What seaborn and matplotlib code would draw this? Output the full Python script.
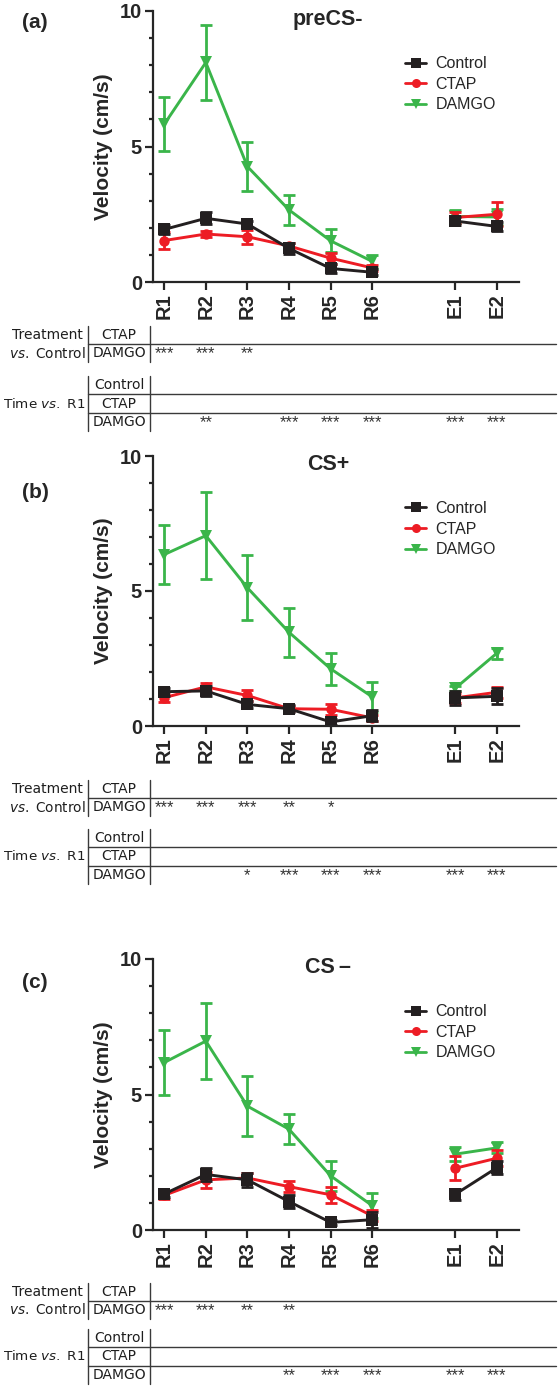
import numpy as np
import pandas as pd
import matplotlib
matplotlib.use('Agg')
import matplotlib.pyplot as plt
import matplotlib.transforms as mtransforms
from matplotlib.lines import Line2D
import seaborn as sns

sns.set_style("ticks")
plt.rcParams['font.family'] = ['Liberation Sans', 'DejaVu Sans']
plt.rcParams['mathtext.fontset'] = 'dejavusans'

# x axis: six retrieval trials, a gap, two extinction trials
x_labels = ['R1', 'R2', 'R3', 'R4', 'R5', 'R6', 'E1', 'E2']
x_pos = [0, 1, 2, 3, 4, 5, 7, 8]
groups = ['Control', 'CTAP', 'DAMGO']

# (a) preCS-
ctrl_a = [1.94, 2.35, 2.14, 1.24, 0.50, 0.36, 2.25, 2.05]
ctrl_a_sem = [0.18, 0.22, 0.12, 0.20, 0.15, 0.12, 0.15, 0.15]
ctap_a = [1.53, 1.77, 1.67, 1.33, 0.88, 0.52, 2.38, 2.50]
ctap_a_sem = [0.32, 0.12, 0.25, 0.12, 0.20, 0.12, 0.20, 0.45]
damgo_a = [5.82, 8.10, 4.26, 2.66, 1.52, 0.76, 2.42, 2.40]
damgo_a_sem = [1.00, 1.40, 0.90, 0.55, 0.42, 0.25, 0.25, 0.28]
stars_treat_a = ['***', '***', '**', '', '', '', '', '']
stars_time_a = ['', '**', '', '***', '***', '***', '***', '***']

# (b) CS+
ctrl_b = [1.27, 1.30, 0.80, 0.64, 0.15, 0.38, 1.04, 1.10]
ctrl_b_sem = [0.15, 0.20, 0.12, 0.12, 0.10, 0.20, 0.25, 0.30]
ctap_b = [1.05, 1.45, 1.13, 0.64, 0.62, 0.30, 1.04, 1.25]
ctap_b_sem = [0.15, 0.15, 0.20, 0.10, 0.20, 0.10, 0.20, 0.20]
damgo_b = [6.35, 7.05, 5.12, 3.47, 2.12, 1.08, 1.40, 2.70]
damgo_b_sem = [1.10, 1.60, 1.20, 0.90, 0.60, 0.55, 0.10, 0.20]
stars_treat_b = ['***', '***', '***', '**', '*', '', '', '']
stars_time_b = ['', '', '*', '***', '***', '***', '***', '***']

# (c) CS-
ctrl_c = [1.33, 2.05, 1.85, 1.05, 0.28, 0.38, 1.32, 2.30]
ctrl_c_sem = [0.12, 0.25, 0.25, 0.25, 0.08, 0.30, 0.20, 0.25]
ctap_c = [1.28, 1.85, 1.92, 1.60, 1.30, 0.52, 2.28, 2.65]
ctap_c_sem = [0.15, 0.30, 0.20, 0.20, 0.30, 0.20, 0.45, 0.30]
damgo_c = [6.18, 6.97, 4.57, 3.72, 2.00, 0.90, 2.80, 3.03]
damgo_c_sem = [1.20, 1.40, 1.10, 0.55, 0.55, 0.45, 0.25, 0.20]
stars_treat_c = ['***', '***', '**', '**', '', '', '', '']
stars_time_c = ['', '', '', '**', '***', '***', '***', '***']

colors = {'Control': '#231f20', 'CTAP': '#ed1c24', 'DAMGO': '#3ab54a'}
markers = {'Control': 's', 'CTAP': 'o', 'DAMGO': 'v'}
msizes = {'Control': 8.5, 'CTAP': 7.5, 'DAMGO': 8}

W, H = 560, 1388


def fx(x):
    return x / W


def fy(y):
    return 1 - y / H


fig = plt.figure(figsize=(W / 100, H / 100), dpi=100)


def draw_panel(ax, means, sems, title):
    # draw DAMGO first so Control ends up on top
    for i, g in enumerate(['DAMGO', 'CTAP', 'Control']):
        df = pd.DataFrame({'pos': x_pos, 'vel': means[g],
                           'seg': [lab[0] for lab in x_labels]})
        z = 2 + i * 0.1
        ax.errorbar(x_pos, means[g], yerr=sems[g], fmt='none', ecolor=colors[g],
                    elinewidth=2.0, capsize=4, capthick=2.0, zorder=z - 0.05)
        sns.lineplot(data=df, x='pos', y='vel', units='seg', estimator=None,
                     color=colors[g], marker=markers[g], markersize=msizes[g],
                     markeredgewidth=0, linewidth=2.1, zorder=z, ax=ax)

    ax.set_xlim(-0.27, 8.53)
    ax.set_ylim(0, 10)
    ax.set_yticks([0, 5, 10])
    ax.set_yticks(np.arange(0, 11, 1), minor=True)
    ax.set_xticks(x_pos)
    ax.set_xticklabels(x_labels, rotation=90)
    ax.tick_params(axis='both', which='major', width=1.6, length=6, labelsize=14.5, pad=2)
    ax.tick_params(axis='y', which='minor', width=1.6, length=3)
    for lab in ax.get_xticklabels() + ax.get_yticklabels():
        lab.set_fontweight('bold')
    sns.despine(ax=ax)
    for s in ['left', 'bottom']:
        ax.spines[s].set_linewidth(1.6)
    ax.set_xlabel('')
    ax.set_ylabel('Velocity (cm/s)', fontsize=15, fontweight='bold', labelpad=5)
    ax.text(0.478, 0.967, title, transform=ax.transAxes, ha='center', va='center',
            fontsize=15.5, fontweight='bold')

    handles = [Line2D([0], [0], color=colors[g], marker=markers[g], lw=2,
                      ms=6.5, markeredgewidth=0) for g in groups]
    ax.legend(handles, groups, loc='upper left', bbox_to_anchor=(0.689, 0.833),
              frameon=False, borderpad=0, borderaxespad=0, handlelength=1.3,
              handletextpad=0.6, labelspacing=0.35, fontsize=11.5)


def draw_table(ax, y_treat, y_time, stars_treat, stars_time):
    lk = dict(color='#3a3a3a', lw=1.0)
    tk = dict(family='DejaVu Sans', color='#1e1e1e', va='center')
    trans = mtransforms.blended_transform_factory(ax.transData, fig.transFigure)

    r1, r2 = y_treat, y_treat + 18
    for xv in [88, 150]:
        fig.add_artist(Line2D([fx(xv)] * 2, [fy(r1 - 9), fy(r2 + 9)], **lk))
    fig.add_artist(Line2D([fx(88), fx(556)], [fy((r1 + r2) / 2)] * 2, **lk))
    fig.text(fx(83), fy(r1), 'Treatment', ha='right', fontsize=10, **tk)
    fig.text(fx(86), fy(r2), r'$\mathit{vs.}$ Control', ha='right', fontsize=9.8, **tk)
    fig.text(fx(119), fy(r1), 'CTAP', ha='center', fontsize=10, **tk)
    fig.text(fx(119), fy(r2), 'DAMGO', ha='center', fontsize=10, **tk)
    for p, s in zip(x_pos, stars_treat):
        if s:
            ax.text(p, fy(r2 + 1), s, transform=trans, ha='center', va='center',
                    fontsize=12, color='#333333')

    c1, c2, c3 = y_time, y_time + 18.5, y_time + 37
    for xv in [88, 150]:
        fig.add_artist(Line2D([fx(xv)] * 2, [fy(c1 - 9), fy(c3 + 9)], **lk))
    for yl in [(c1 + c2) / 2, (c2 + c3) / 2]:
        fig.add_artist(Line2D([fx(88), fx(556)], [fy(yl)] * 2, **lk))
    fig.text(fx(86), fy(c2), r'Time $\mathit{vs.}$ R1', ha='right', fontsize=9.7, **tk)
    for yy, lab in zip([c1, c2, c3], groups):
        fig.text(fx(119), fy(yy), lab, ha='center', fontsize=10, **tk)
    for p, s in zip(x_pos, stars_time):
        if s:
            ax.text(p, fy(c3 + 1), s, transform=trans, ha='center', va='center',
                    fontsize=12, color='#333333')


panels = [
    ('(a)', 'preCS-', 11, 282, 22,
     {'Control': ctrl_a, 'CTAP': ctap_a, 'DAMGO': damgo_a},
     {'Control': ctrl_a_sem, 'CTAP': ctap_a_sem, 'DAMGO': damgo_a_sem},
     335, 385, stars_treat_a, stars_time_a),
    ('(b)', 'CS+', 456, 726, 492,
     {'Control': ctrl_b, 'CTAP': ctap_b, 'DAMGO': damgo_b},
     {'Control': ctrl_b_sem, 'CTAP': ctap_b_sem, 'DAMGO': damgo_b_sem},
     789, 838, stars_treat_b, stars_time_b),
    ('(c)', 'CS\u2009\u2013', 959, 1230, 982,
     {'Control': ctrl_c, 'CTAP': ctap_c, 'DAMGO': damgo_c},
     {'Control': ctrl_c_sem, 'CTAP': ctap_c_sem, 'DAMGO': damgo_c_sem},
     1292, 1338, stars_treat_c, stars_time_c),
]

for tag, title, top, bottom, tag_y, means, sems, yt, ytime, st, stt in panels:
    ax = fig.add_axes([fx(153), fy(bottom), fx(519) - fx(153), (bottom - top) / H])
    draw_panel(ax, means, sems, title)
    fig.text(fx(22), fy(tag_y), tag, ha='left', va='center', fontsize=15,
             fontweight='bold')
    draw_table(ax, yt, ytime, st, stt)

fig.savefig('out.png', dpi=100)
